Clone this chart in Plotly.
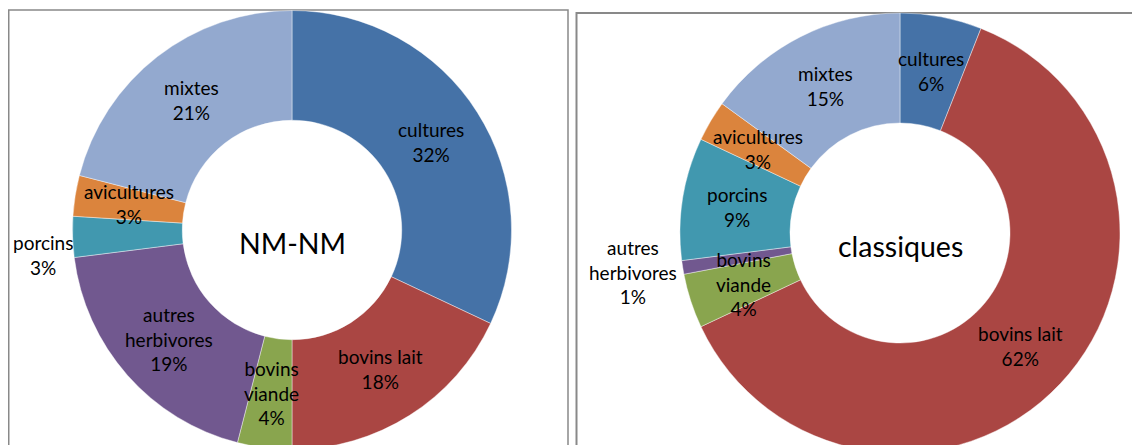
import math
import plotly.graph_objects as go

# ---- data ----
categories = ["cultures", "bovins lait", "bovins viande", "autres herbivores",
              "porcins", "avicultures", "mixtes"]
label_lines = ["cultures", "bovins lait", "bovins<br>viande", "autres<br>herbivores",
               "porcins", "avicultures", "mixtes"]
nm_values = [32, 18, 4, 19, 3, 3, 21]
classic_values = [6, 62, 4, 1, 9, 3, 15]
chart_titles = ["NM-NM", "classiques"]

# ---- style ----
colors = ["#4572A7", "#AA4643", "#89A54E", "#71588F", "#4198AF", "#DB843D", "#93A9CF"]
W, H = 1140, 445
OFF = 8          # page body margin offset (screen px -> figure px)
HOLE = 0.5
FONT = "Lato, 'Open Sans', sans-serif"

# pie placement in screen px: (center x, center y, outer radius)
pie_specs = [(292, 230, 219.5), (900, 233, 220)]
# manual label shifts (px) for labels moved outside the ring
label_shift = [{4: (-84, 20)}, {3: (-104, 13)}]

def px_to_paper(x, y):
    return (x - OFF) / W, 1 - (y - OFF) / H

fig = go.Figure()
annotations = []
shapes = []

for k, (vals, title) in enumerate(zip([nm_values, classic_values], chart_titles)):
    cx, cy, R = pie_specs[k]
    x0, y1 = px_to_paper(cx - R, cy - R)
    x1, y0 = px_to_paper(cx + R, cy + R)
    fig.add_trace(go.Pie(
        labels=categories, values=vals, sort=False, direction="clockwise",
        rotation=0, hole=HOLE, textinfo="none", hoverinfo="label+percent",
        marker=dict(colors=colors, line=dict(color="rgba(255,255,255,0.6)", width=0.7)),
        domain=dict(x=[x0, x1], y=[max(0, y0), min(1, y1)]), showlegend=False,
    ))
    total = sum(vals)
    cum = 0
    rmid = R * (1 + HOLE) / 2
    for i, v in enumerate(vals):
        mid = (cum + v / 2) / total * 2 * math.pi
        cum += v
        lx = cx + rmid * math.sin(mid)
        ly = cy - rmid * math.cos(mid)
        dx, dy = label_shift[k].get(i, (0, 0))
        px_, py_ = px_to_paper(lx + dx, ly + dy)
        pct = round(v / total * 100)
        annotations.append(dict(
            x=px_, y=py_, xref="paper", yref="paper", showarrow=False,
            text=f"{label_lines[i]}<br>{pct}%", align="center",
            font=dict(family=FONT, size=19, color="#000000"),
            xanchor="center", yanchor="middle",
        ))
    tx, ty = px_to_paper(cx, cy + 13)
    annotations.append(dict(
        x=tx, y=ty, xref="paper", yref="paper", showarrow=False, text=title,
        font=dict(family=FONT, size=28.5, color="#000000"),
        xanchor="center", yanchor="middle",
    ))

# panel borders (screen px)
for (bx0, by0, bx1, bw) in [(8.75, 10, 568, 1.5), (576.5, 13, 1160, 2)]:
    X0, Y0 = px_to_paper(bx0, by0)
    X1, Y1 = px_to_paper(bx1, H + 40)
    shapes.append(dict(type="rect", xref="paper", yref="paper",
                       x0=X0, y0=Y1, x1=X1, y1=Y0,
                       line=dict(color="#898989", width=bw), layer="below"))

fig.update_layout(
    width=W, height=H,
    margin=dict(l=0, r=0, t=0, b=0),
    paper_bgcolor="white", plot_bgcolor="white",
    annotations=annotations, shapes=shapes,
    font=dict(family=FONT),
)

fig.write_html("out.html")
